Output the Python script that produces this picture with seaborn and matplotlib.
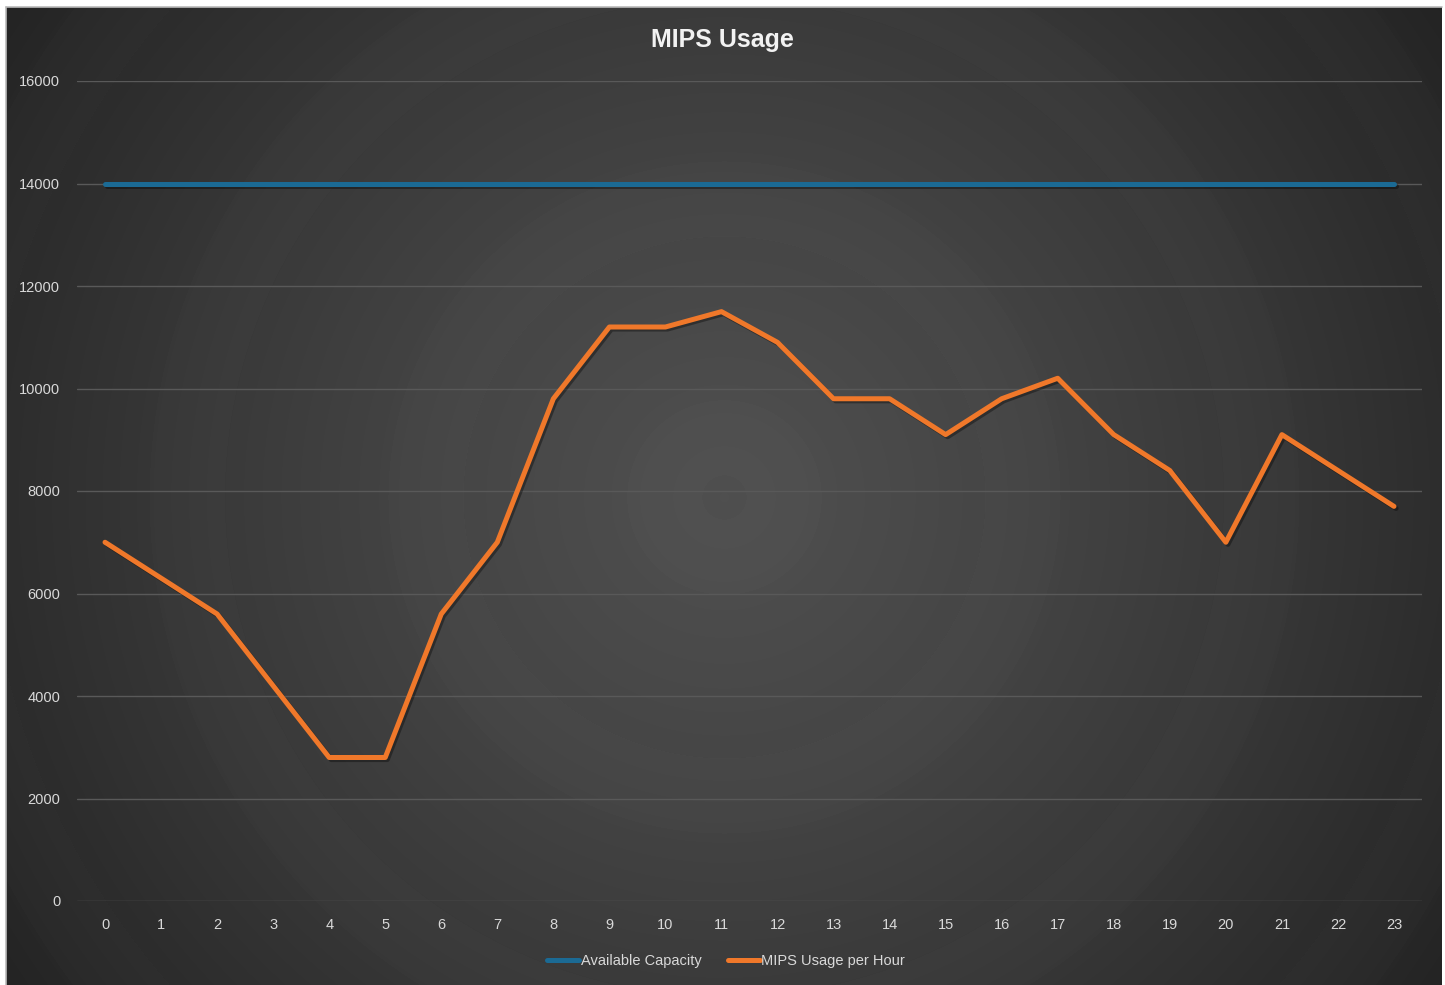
import numpy as np
import pandas as pd
import matplotlib
matplotlib.use("Agg")
import matplotlib.pyplot as plt
import matplotlib.patheffects as pe
import seaborn as sns

# chart data
hours = list(range(24))
available_capacity = [14000] * 24
mips_usage = [7000, 6300, 5600, 4200, 2800, 2800, 5600, 7000, 9800, 11200,
              11200, 11500, 10900, 9800, 9800, 9100, 9800, 10200, 9100, 8400,
              7000, 9100, 8400, 7700]
series_names = ["Available Capacity", "MIPS Usage per Hour"]
series_colors = ["#1b6a94", "#f0782a"]

df = pd.DataFrame({
    "hour": hours * 2,
    "value": available_capacity + mips_usage,
    "series": [series_names[0]] * 24 + [series_names[1]] * 24,
})

sns.set_theme(style="dark")
plt.rcParams["font.family"] = ["Liberation Sans", "DejaVu Sans"]

W, H = 1445, 985
fig = plt.figure(figsize=(W / 100, H / 100), dpi=100)
fig.patch.set_facecolor("white")

# dark radial gradient background with faint circular rings
bg = fig.add_axes([6 / W, 0, 1436 / W, 978 / H])
yy, xx = np.mgrid[0:978, 0:1436]
d = np.hypot(xx - 718, yy - 490)
r = d / np.hypot(718, 490)
shade = 0.31 - 0.17 * r ** 1.3
rings = 0.008 * (np.sin(d / 38.0) > 0.55)
img = np.clip(shade + rings, 0, 1)
bg.imshow(np.dstack([img] * 3), aspect="auto", interpolation="bilinear")
bg.set_axis_off()
fig.add_artist(plt.Line2D([6 / W, 6 / W], [0, 978 / H], color="#bbbbbb", lw=1.2))
fig.add_artist(plt.Line2D([6 / W, 1442 / W], [978 / H, 978 / H], color="#bbbbbb", lw=1.2))

ax = fig.add_axes([77 / W, 1 - 901 / H, (1422 - 77) / W, (901 - 81) / H])
ax.set_facecolor("none")
sns.lineplot(data=df, x="hour", y="value", hue="series", palette=series_colors,
             hue_order=series_names, linewidth=3.6, ax=ax, legend=True)
for line in ax.get_lines():
    line.set_solid_capstyle("round")
    line.set_path_effects([pe.SimpleLineShadow(offset=(1.5, -1.5), shadow_color="black", alpha=0.35),
                           pe.Normal()])

ax.set_xlim(-0.5, 23.5)
ax.set_ylim(0, 16000)
ax.set_xticks(hours)
ax.set_yticks(range(0, 16001, 2000))
ax.grid(axis="y", color="#595959", linewidth=1)
ax.grid(axis="x", visible=False)
for s in ax.spines.values():
    s.set_visible(False)
ax.tick_params(axis="both", colors="#d9d9d9", labelsize=10.5, length=0)
ax.tick_params(axis="y", pad=12)
ax.tick_params(axis="x", pad=12)
ax.set_xlabel("")
ax.set_ylabel("")

fig.text(722 / W, 1 - 40 / H, "MIPS Usage", ha="center", va="center",
         color="#f2f2f2", fontsize=18, fontweight="bold")

handles, labels = ax.get_legend_handles_labels()
ax.get_legend().remove()
leg = fig.legend(handles, labels, loc="center", bbox_to_anchor=(726 / W, 1 - 961 / H),
                 ncol=2, frameon=False, fontsize=10.5, handlelength=2.2,
                 handletextpad=0.1, columnspacing=1.8)
for t in leg.get_texts():
    t.set_color("#d9d9d9")
for l in leg.get_lines():
    l.set_linewidth(3.6)
    l.set_path_effects([])

fig.savefig("out.png", dpi=100)
